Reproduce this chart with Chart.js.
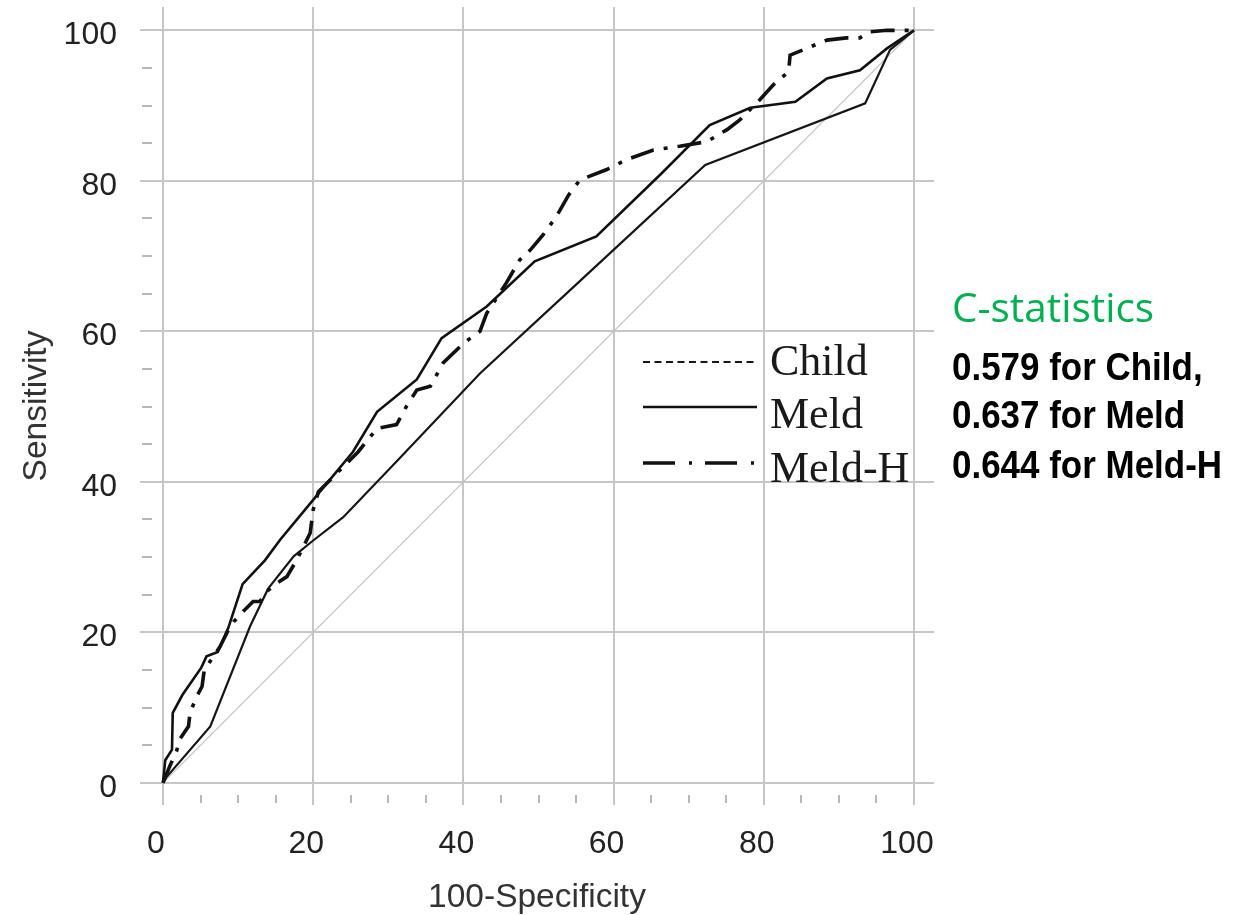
<!DOCTYPE html>
<html>
<head>
<meta charset="utf-8">
<script src="https://cdn.jsdelivr.net/npm/chart.js@4.4.0/dist/chart.umd.min.js"></script>
<style>
html,body{margin:0;padding:0;background:#fff;}
#wrap{position:relative;width:1234px;height:915px;overflow:hidden;}
#c{position:absolute;left:0;top:0;}
.stat{position:absolute;left:952px;white-space:nowrap;margin:0;}
#statTitle{top:287px;color:#00B050;font-family:"Open Sans",sans-serif;font-size:40.5px;line-height:40px;}
.statLine{color:#000;font-family:"Liberation Sans",Arial,sans-serif;font-weight:bold;font-size:38px;line-height:38px;transform:scaleX(0.92);transform-origin:0 0;}
</style>
</head>
<body>
<div id="wrap">
<canvas id="c" width="1234" height="915"></canvas>
<div id="statTitle" class="stat"></div>
<div id="stat0" class="stat statLine" style="top:348px"></div>
<div id="stat1" class="stat statLine" style="top:396px"></div>
<div id="stat2" class="stat statLine" style="top:446px"></div>
</div>
<script>
// ---- data ----
const xTickValues = [0, 20, 40, 60, 80, 100];
const yTickValues = [0, 20, 40, 60, 80, 100];
const minorTickValues = [5, 10, 15, 25, 30, 35, 45, 50, 55, 65, 70, 75, 85, 90, 95];
const seriesLabels = ['Child', 'Meld', 'Meld-H'];
const xTitle = '100-Specificity';
const yTitle = 'Sensitivity';

const childX = [0, 0.5, 6.3, 11.6, 14, 17.4, 20, 24, 31, 42.2, 55, 72.2, 93.5, 96.8, 100];
const childY = [0, 0.8, 7.5, 20.8, 25.8, 30.1, 32.2, 35.3, 42.6, 54.4, 66.2, 82.1, 90.3, 97.4, 100];

const meldX = [0, 0.3, 1.2, 1.3, 2.6, 5.1, 5.8, 7.3, 8.7, 10.6, 13.6, 15.6, 20, 25.3, 28.5, 33.8, 37.1, 43.1, 49.5, 57.7, 66.2, 72.8, 78.2, 84.2, 88.4, 92.8, 96.4, 100];
const meldY = [0, 3, 4.4, 9.3, 11.7, 15.3, 16.8, 17.4, 20.6, 26.4, 29.6, 32.3, 37.6, 44, 49.3, 53.6, 59.1, 63.3, 69.3, 72.6, 80.8, 87.4, 89.7, 90.5, 93.6, 94.7, 97.6, 100];

const meldHX = [0, 0.9, 1.8, 2.3, 3.4, 3.6, 4.5, 5.2, 5.5, 7.6, 8.7, 9.4, 10.7, 12, 12.9, 13.8, 15.1, 16.5, 17.8, 19.6, 20, 20.7, 24, 26, 28.5, 31.1, 32.4, 33.8, 35.6, 37.3, 40, 42.2, 43.1, 45.7, 47.5, 48.9, 50.6, 52.4, 54, 55.5, 59.1, 61.7, 65.3, 68.8, 72.4, 75.1, 76.8, 79.5, 81.3, 83.3, 83.5, 85.7, 88.4, 91, 92.8, 94.1, 96.4, 100];
const meldHY = [0, 2.2, 4.2, 5.9, 7.5, 9.3, 11.5, 12.8, 15, 18.1, 20.3, 21.4, 22.8, 24.1, 24.1, 25.4, 26.5, 27.4, 29.6, 33.2, 36.3, 38.7, 42, 44, 47.1, 47.6, 50, 52.2, 52.7, 55.8, 58.4, 60, 62.4, 66.4, 69.5, 70.8, 72.8, 75.3, 78.1, 80.1, 81.5, 82.8, 84.1, 84.6, 85.2, 86.8, 88.1, 90.8, 92.8, 94.5, 96.7, 97.6, 98.7, 99, 99, 99.8, 100, 100];

const refX = [0, 100];
const refY = [0, 100];

const statTitle = 'C-statistics';
const statLines = ['0.579 for Child,', '0.637 for Meld', '0.644 for Meld-H'];

// ---- text blocks ----
document.getElementById('statTitle').textContent = statTitle;
statLines.forEach((t, i) => { document.getElementById('stat' + i).textContent = t; });

// ---- helpers / styles ----
const toPts = (xs, ys) => xs.map((x, i) => ({x: x, y: ys[i]}));
const gridColor = '#c6c6c6';
const tickFont = {family: '"Liberation Sans", Arial, sans-serif', size: 32};
const titleFont = {family: '"Liberation Sans", Arial, sans-serif', size: 33.5, lineHeight: 1};

const legendLayout = {x1: 643, x2: 757, textX: 770, lineY: [362, 407, 463], baseY: [375, 428, 482]};

const minorTicksPlugin = {
  id: 'minorTicks',
  beforeDatasetsDraw(chart) {
    const ctx = chart.ctx, xs = chart.scales.x, ys = chart.scales.y, area = chart.chartArea;
    ctx.save();
    ctx.strokeStyle = '#b8b8b8';
    ctx.lineWidth = 2;
    minorTickValues.forEach(v => {
      const py = Math.round(ys.getPixelForValue(v));
      ctx.beginPath(); ctx.moveTo(area.left + 2, py); ctx.lineTo(area.left + 12, py); ctx.stroke();
      const px = Math.round(xs.getPixelForValue(v));
      ctx.beginPath(); ctx.moveTo(px, area.bottom - 10); ctx.lineTo(px, area.bottom - 2); ctx.stroke();
    });
    ctx.restore();
  }
};

const insetLegendPlugin = {
  id: 'insetLegend',
  afterDatasetsDraw(chart) {
    const ctx = chart.ctx;
    ctx.save();
    seriesLabels.forEach((label, i) => {
      const ds = chart.data.datasets[i];
      ctx.strokeStyle = ds.borderColor;
      ctx.lineWidth = ds.borderWidth;
      ctx.setLineDash(ds.legendDash || ds.borderDash || []);
      ctx.beginPath();
      ctx.moveTo(legendLayout.x1, legendLayout.lineY[i]);
      ctx.lineTo(legendLayout.x2, legendLayout.lineY[i]);
      ctx.stroke();
      ctx.setLineDash([]);
      ctx.fillStyle = '#1a1a1a';
      ctx.font = '44px "Liberation Serif", "Times New Roman", serif';
      ctx.textBaseline = 'alphabetic';
      ctx.textAlign = 'left';
      ctx.fillText(ds.label, legendLayout.textX, legendLayout.baseY[i]);
    });
    ctx.restore();
  }
};

new Chart(document.getElementById('c'), {
  type: 'line',
  data: {
    datasets: [
      {label: seriesLabels[0], data: toPts(childX, childY), borderColor: '#161616', borderWidth: 2.2, pointRadius: 0, fill: false, tension: 0, legendDash: [7, 4.5]},
      {label: seriesLabels[1], data: toPts(meldX, meldY), borderColor: '#111111', borderWidth: 2.6, pointRadius: 0, fill: false, tension: 0},
      {label: seriesLabels[2], data: toPts(meldHX, meldHY), borderColor: '#111111', borderWidth: 3.6, borderDash: [24, 10, 4, 10], legendDash: [32, 14, 3, 13], pointRadius: 0, fill: false, tension: 0},
      {label: 'reference', data: toPts(refX, refY), borderColor: '#c0c0c0', borderWidth: 1.2, pointRadius: 0, fill: false, tension: 0, order: 10}
    ]
  },
  options: {
    responsive: false,
    animation: false,
    devicePixelRatio: 1,
    layout: {padding: {left: 0, right: 300, top: 7, bottom: 0}},
    plugins: {legend: {display: false}, tooltip: {enabled: false}},
    scales: {
      x: {
        type: 'linear', min: -3.06, max: 102.66,
        afterBuildTicks: s => { s.ticks = xTickValues.map(v => ({value: v})); },
        afterFit: s => { s.height = 110; s.paddingLeft = 0; s.paddingRight = 0; },
        grid: {color: gridColor, lineWidth: 2, drawTicks: false},
        border: {display: false},
        ticks: {font: tickFont, color: '#222', padding: 20, labelOffset: -7, maxRotation: 0, autoSkip: false},
        title: {display: true, text: xTitle, font: titleFont, color: '#333', padding: 0}
      },
      y: {
        type: 'linear', min: -2.95, max: 103.1,
        afterBuildTicks: s => { s.ticks = yTickValues.map(v => ({value: v})); },
        afterFit: s => { s.width = 140; s.paddingTop = 0; s.paddingBottom = 0; },
        grid: {color: gridColor, lineWidth: 2, drawTicks: false},
        border: {display: false},
        ticks: {font: tickFont, color: '#222', padding: 23, labelOffset: 5, autoSkip: false},
        title: {display: true, text: yTitle, font: titleFont, color: '#333', padding: {top: 20, bottom: 0}}
      }
    }
  },
  plugins: [minorTicksPlugin, insetLegendPlugin]
});
</script>
</body>
</html>
